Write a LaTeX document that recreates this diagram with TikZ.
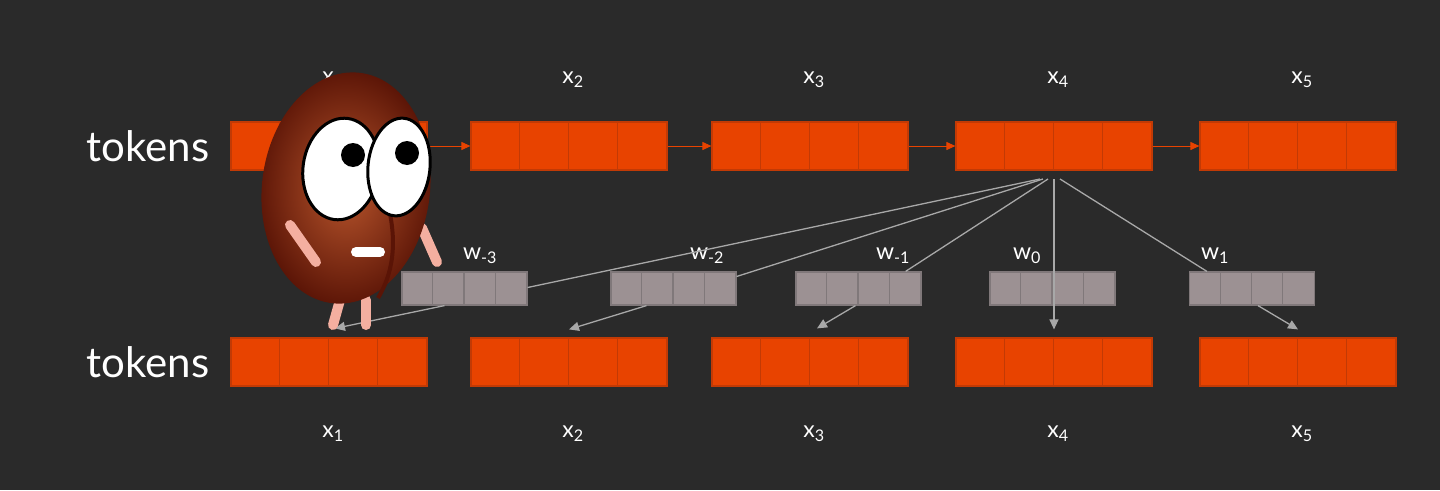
\documentclass[tikz,border=0pt]{standalone}
\usepackage{fontspec}
\setmainfont{Lato}
\usetikzlibrary{arrows.meta}

\definecolor{bg}{HTML}{2A2A2A}
\definecolor{tokfill}{HTML}{E84300}
\definecolor{tokedge}{HTML}{C23A05}
\definecolor{wfill}{HTML}{9C9193}
\definecolor{wedge}{HTML}{80787A}
\definecolor{linegray}{HTML}{A8A8A8}
\definecolor{beanpink}{HTML}{F4AFA0}
\definecolor{beandark}{HTML}{5A1406}
\definecolor{beanlight}{HTML}{B8552C}

\tikzset{
  tok/.style={draw=tokedge, fill=tokfill, line width=1.2pt, minimum width=196, minimum height=48, inner sep=0pt},
  wbox/.style={draw=wedge, fill=wfill, line width=1.2pt, minimum width=125, minimum height=33, inner sep=0pt},
  lab/.style={text=white, font=\fontsize{23}{26}\selectfont},
  conn/.style={draw=linegray, line width=1.3pt},
  arr/.style={conn, -{Triangle[length=10,width=9]}},
  tokarr/.style={draw=tokfill, line width=1pt, -{Triangle[length=9,width=8]}},
}

\begin{document}
\begin{tikzpicture}[x=1pt,y=-1pt]
\useasboundingbox (0,0) rectangle (1440,490);
\fill[bg] (0,0) rectangle (1440,490);

\node[text=white, font=\fontsize{42}{48}\selectfont] (toptag) at (148,146) {tokens};
\node[text=white, font=\fontsize{42}{48}\selectfont] (bottag) at (148,362) {tokens};

% token rows
\foreach \i/\x in {1/329,2/569,3/810,4/1054,5/1298}{
  \node[tok] (t\i) at (\x,146) {};
  \node[tok] (b\i) at (\x,362) {};
  \foreach \k in {1,2,3}{
    \draw[tokedge, line width=1.2pt] ([xshift=49*\k]t\i.north west) -- ([xshift=49*\k]t\i.south west);
    \draw[tokedge, line width=1.2pt] ([xshift=49*\k]b\i.north west) -- ([xshift=49*\k]b\i.south west);
  }
  \node[lab] (tx\i) at (\x+4,80) {x\textsubscript{\i}};
  \node[lab] (bx\i) at (\x+4,434) {x\textsubscript{\i}};
}
\foreach \i/\j in {1/2,2/3,3/4,4/5}
  \draw[tokarr] (t\i) -- (t\j);

% weights
\foreach \n/\x/\lx/\s in {wm3/464.5/480/-3, wm2/673.5/707/-2, wm1/858.5/893/-1, w0/1052.5/1027/0, w1/1252/1215/1}{
  \node[wbox] (\n) at (\x,288.5) {};
  \foreach \k in {1,2,3}
    \draw[wedge, line width=1.2pt] ([xshift=31.25*\k]\n.north west) -- ([xshift=31.25*\k]\n.south west);
  \node[lab] (l\n) at (\lx,256) {w\textsubscript{\s}};
}

\coordinate (hub) at (1054,179);
\draw[conn] ([xshift=-14]hub) -- ([yshift=1]wm3.east);
\draw[conn] ([xshift=-11]hub) -- ([yshift=12]wm2.east);
\draw[conn] ([xshift=-6]hub) -- ([xshift=-16]wm1.north east);
\draw[arr] (hub) -- ([yshift=8]b4.north);
\draw[conn] ([xshift=6]hub) -- ([xshift=18]w1.north west);

\draw[arr] ([xshift=-20]wm3.south) -- ([xshift=6,yshift=9]b1.north);
\draw[arr] ([xshift=-27]wm2.south) -- ([yshift=8]b2.north);
\draw[arr] ([xshift=-3]wm1.south) -- ([xshift=7,yshift=9]b3.north);
\draw[arr] ([xshift=6]w1.south) -- ([yshift=8]b5.north);

% the bean
\draw[beanpink, line width=10pt, line cap=round] (340,300) -- (333,325);
\draw[beanpink, line width=10pt, line cap=round] (366,300) -- (366,325);
\draw[beanpink, line width=10pt, line cap=round] (422,228) -- (437,262);
\shade[inner color=beanlight, outer color=beandark, rotate around={-7:(346,188)}] (346,188) ellipse [x radius=84, y radius=116];
\draw[beandark, line width=4pt] (388,205) .. controls (398,245) and (392,275) .. (378,298);
\draw[beanpink, line width=10pt, line cap=round] (290,225) -- (316,262);
\draw[black, fill=white, line width=3pt, rotate around={-8:(341,169)}] (341,169) ellipse [x radius=38, y radius=51];
\draw[black, fill=white, line width=3pt, rotate around={-6:(399,167)}] (399,167) ellipse [x radius=31, y radius=49];
\fill[black] (353,155) circle (12);
\fill[black] (407,153) circle (12);
\draw[white, line width=10pt, line cap=round] (356,252) -- (380,252);
\end{tikzpicture}
\end{document}
